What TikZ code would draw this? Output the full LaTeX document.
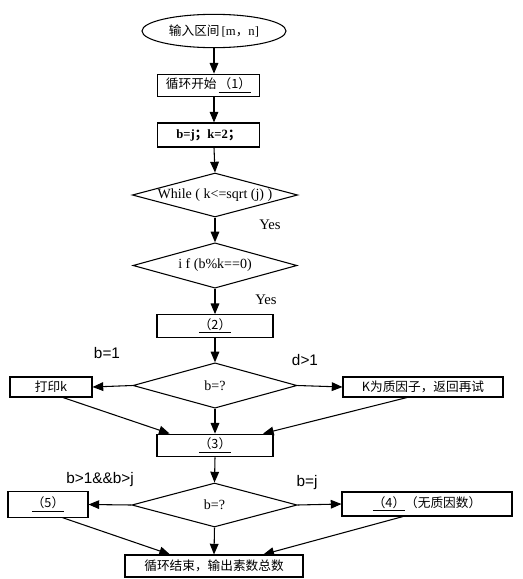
\documentclass[tikz,border=0pt]{standalone}
\usepackage{fontspec}
\setmainfont{Liberation Serif}
\setsansfont{Liberation Sans}
\newfontfamily\cjk{Noto Sans CJK SC}
\usetikzlibrary{shapes.geometric,arrows.meta}

\tikzset{
    box/.style={draw, thick, rectangle, inner sep=0pt},
    cond/.style={draw, thick, diamond, aspect=4, inner sep=0pt,
        font=\fontsize{10.5}{12}\selectfont},
    flow/.style={thick, -{Triangle[length=8pt,width=6.5pt]}},
    tag/.style={font=\fontsize{11}{13}\selectfont},
    branch/.style={font=\sffamily\fontsize{11.5}{13}\selectfont}
}

\begin{document}
\begin{tikzpicture}[x=0.75pt, y=-0.75pt, font=\fontsize{9.5}{11}\selectfont]
    \useasboundingbox (0,0) rectangle (522,579);

    % Inizio
    \node[draw, thick, ellipse, minimum width=108pt, minimum height=25pt, inner sep=0pt]
        (start) at (214,31) {{\cjk 输入区间}\,[m{\cjk ，}n]};
    \node[box, minimum width=77pt, minimum height=17pt] (loop) at (208.5,85.5)
        {{\cjk 循环开始}\,\underline{\cjk （1）}};
    \node[box, minimum width=77pt, minimum height=18pt] (init) at (208.5,135)
        {\textbf{b=j{\cjk ；}k=2{\cjk ；}}};

    % Condizioni
    \node[cond, minimum width=123pt, minimum height=33pt] (while) at (215,195)
        {While ( k<=sqrt (j) )};
    \node[cond, minimum width=123pt, minimum height=34pt] (test) at (215,265.5)
        {i f (b\%k==0)};
    \node[box, minimum width=87pt, minimum height=17pt] (two) at (215,326)
        {\underline{\cjk （2）}};

    % Primo ramo
    \node[cond, minimum width=123pt, minimum height=34pt] (bq) at (215,385.5) {b=?};
    \node[box, minimum width=61.5pt, minimum height=15pt] (print) at (51,387)
        {\cjk 打印k};
    \node[box, minimum width=120pt, minimum height=15pt] (factor) at (423,387)
        {\cjk K为质因子，返回再试};
    \node[box, minimum width=87pt, minimum height=17pt] (three) at (215,445.5)
        {\underline{\cjk （3）}};

    % Secondo ramo
    \node[cond, minimum width=124pt, minimum height=33pt] (bq2) at (214.5,505) {b=?};
    \node[box, minimum width=60pt, minimum height=19pt] (five) at (48,504.5)
        {\underline{\cjk （5）}};
    \node[box, minimum width=127.5pt, minimum height=18pt] (four) at (427,504)
        {\underline{\cjk （4）}{\cjk （无质因数）}};
    \node[box, minimum width=133.5pt, minimum height=16.5pt] (finish) at (214,566)
        {\cjk 循环结束，输出素数总数};

    % Etichette
    \node[tag] (yes1) at (270,225) {Yes};
    \node[tag] (yes2) at (266,300) {Yes};
    \node[branch] (lb1) at (107,353) {b=1};
    \node[branch] (ld1) at (305,360) {d>1};
    \node[branch] (lb2) at (100,480) {b>1\&\&b>j};
    \node[branch] (lbj) at (307,483) {b=j};

    % Frecce
    \draw[flow] (start.south) -- (start.south |- loop.north);
    \draw[flow] (start.south |- loop.south) -- (start.south |- init.north);
    \draw[flow] (start.south |- init.south) -- (while.north);
    \draw[flow] (while.south) -- (test.north);
    \draw[flow] (test.south) -- (two.north);
    \draw[flow] (two.south) -- (bq.north);
    \draw[flow] (bq.west) -- (print.east);
    \draw[flow] (bq.east) -- (factor.west);
    \draw[flow] (bq.south) -- (three.north);
    \draw[flow] ([xshift=9pt]print.south) -- ([xshift=-34pt]three.north);
    \draw[flow] ([xshift=-12pt]factor.south) -- ([xshift=36pt]three.north);
    \draw[flow] (three.south) -- (bq2.north);
    \draw[flow] (bq2.west) -- (five.east);
    \draw[flow] (bq2.east) -- (four.west);
    \draw[flow] (bq2.south) -- (finish.north);
    \draw[flow] ([xshift=11pt]five.south) -- ([xshift=-33pt]finish.north);
    \draw[flow] ([xshift=-18pt]four.south) -- ([xshift=37pt]finish.north);
\end{tikzpicture}
\end{document}
